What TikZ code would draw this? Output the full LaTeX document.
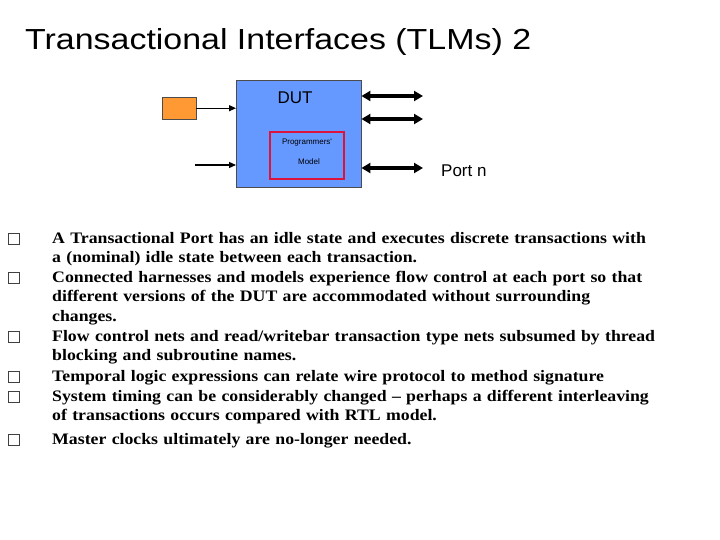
\documentclass[tikz,border=0pt]{standalone}
\usepackage{fontspec}
\setmainfont{Liberation Serif}[FakeStretch=1.11]
\newfontfamily\arial{Liberation Sans}
\newfontfamily\arialw{Liberation Sans}[FakeStretch=1.17]
\usetikzlibrary{arrows.meta}
\tikzset{x=1pt,y=-1pt,
 port/.style={line width=3.2pt,{Triangle[length=9pt,width=10pt]}-{Triangle[length=9pt,width=10pt]}},
 inarr/.style={line width=1.2pt,-{Triangle[length=7pt,width=6pt]}},
 bul/.style={anchor=north west,inner sep=0pt,font=\bfseries\fontsize{16}{19.5}\selectfont,align=left,text width=640pt},
 bx/.style={draw=black!75,fill=white,line width=0.8pt,minimum size=11pt,inner sep=0pt,anchor=center}}
\begin{document}
\begin{tikzpicture}
\useasboundingbox[fill=white] (0,0) rectangle (720,540);
\node[anchor=west,inner sep=0pt,font=\arialw\fontsize{29}{32}\selectfont] (title) at (25,42) {Transactional Interfaces (TLMs) 2};
\node[draw=black!70,fill={rgb,255:red,102;green,153;blue,255},minimum width=125pt,minimum height=107pt,anchor=north west,inner sep=0pt] (dut) at (236,80) {};
\node[font=\arial\fontsize{17}{18}\selectfont] (dutl) at (295,98) {DUT};
\node[draw={rgb,255:red,220;green,20;blue,60},line width=2pt,minimum width=74pt,minimum height=47pt,anchor=north west,inner sep=0pt] (pm) at (269,131) {};
\node[font=\arial\fontsize{8}{9}\selectfont] (pmt) at (307,143) {Programmers'};
\node[font=\arial\fontsize{8}{9}\selectfont] (pmm) at (309,162) {Model};
\node[draw=black!70,fill={rgb,255:red,255;green,153;blue,51},minimum width=34pt,minimum height=22pt,anchor=north west,inner sep=0pt] (or) at (162,97) {};
\coordinate (i2) at (195,165);
\draw[inarr] (or.east) -- (dut.west|-or.east);
\draw[inarr] (i2) -- (dut.west|-i2);
\coordinate (p1) at (423,96); \coordinate (p2) at (423,119); \coordinate (p3) at (423,168);
\draw[port] (dut.east|-p1) -- (p1);
\draw[port] (dut.east|-p2) -- (p2);
\draw[port] (dut.east|-p3) -- (p3);
\node[anchor=west,inner sep=0pt,font=\arial\fontsize{17}{18}\selectfont] (pn) at (441,171) {Port n};
\foreach \y/\t [count=\i] in {
 232/{A Transactional Port has an idle state and executes discrete transactions with\\a (nominal) idle state between each transaction.},
 271/{Connected harnesses and models experience flow control at each port so that\\different versions of the DUT are accommodated without surrounding\\changes.},
 330/{Flow control nets and read/writebar transaction type nets subsumed by thread\\blocking and subroutine names.},
 370/{Temporal logic expressions can relate wire protocol to method signature},
 390/{System timing can be considerably changed -- perhaps a different interleaving\\of transactions occurs compared with RTL model.},
 433/{Master clocks ultimately are no-longer needed.}}{
 \node[bul] (b\i) at (52,\y) {\t};
 \node[bx] (k\i) at (14,\y+7) {};
}
\end{tikzpicture}
\end{document}
